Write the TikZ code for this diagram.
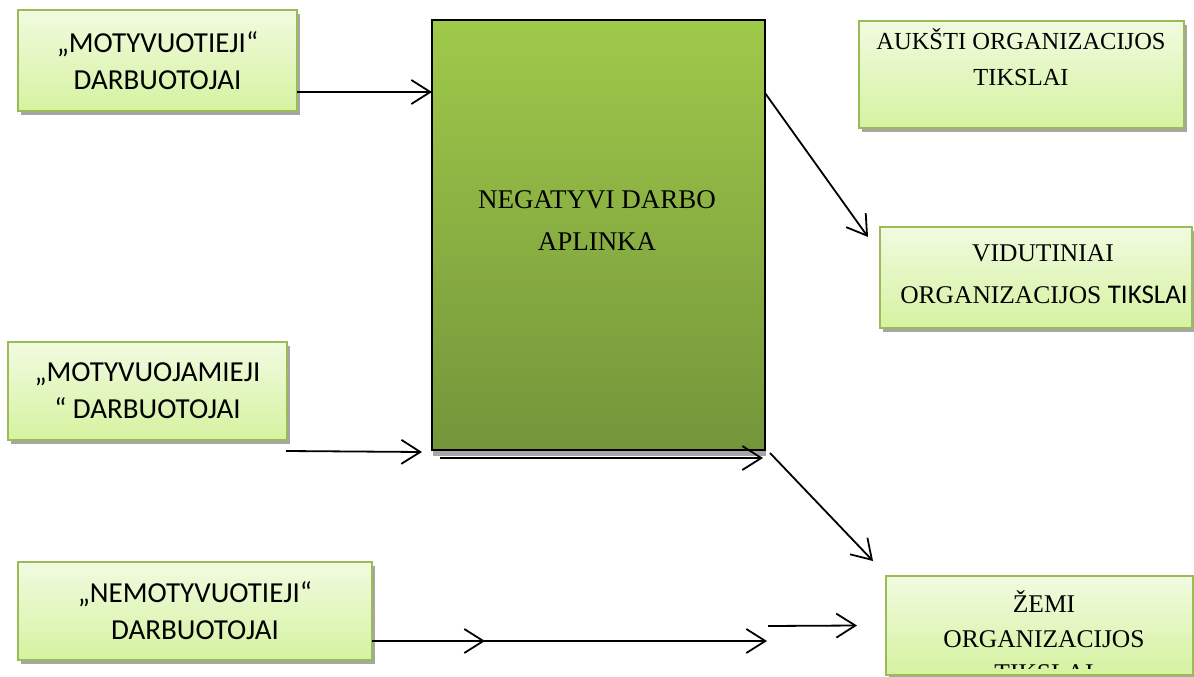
\documentclass[tikz,border=0pt]{standalone}
\usepackage{fontspec}
\setmainfont{Liberation Serif}
\newfontfamily\carlito{Carlito}
\usetikzlibrary{arrows.meta,shadows}

\definecolor{boxtop}{HTML}{F1FBE0}
\definecolor{boxbot}{HTML}{D5F2A0}
\definecolor{boxedge}{HTML}{9BBB59}
\definecolor{bigtop}{HTML}{9FC94A}
\definecolor{bigbot}{HTML}{74953A}
\definecolor{shadowgray}{HTML}{A6A6A6}

\tikzset{
  goalbox/.style={draw=boxedge, line width=2pt, top color=boxtop, bottom color=boxbot,
    inner sep=0pt, outer sep=0pt,
    drop shadow={shadow xshift=3pt, shadow yshift=-4pt, fill=shadowgray, opacity=1}},
  envbox/.style={draw=black, line width=1.5pt, top color=bigtop, bottom color=bigbot,
    inner sep=0pt, outer sep=0pt,
    drop shadow={shadow xshift=1pt, shadow yshift=-6pt, fill=shadowgray, opacity=1}},
  sanslabel/.style={font=\carlito\fontsize{29}{37}\selectfont, align=center},
  serifline/.style={font=\fontsize{25.5}{30}\selectfont, anchor=base, inner sep=0pt},
  flow/.style={line width=1.8pt, -{Straight Barb[length=19pt,width=24pt]}}
}

\begin{document}
\begin{tikzpicture}[x=1pt,y=-1pt]
\useasboundingbox (0,0) rectangle (1194,677);

% employee groups (left)
\node[goalbox, sanslabel, minimum width=279pt, minimum height=101pt] (m1) at (157.5,60.5)
  {„MOTYVUOTIEJI“\\DARBUOTOJAI};
\node[goalbox, sanslabel, minimum width=279pt, minimum height=98pt] (m2) at (147.5,391)
  {„MOTYVUOJAMIEJI\\“ DARBUOTOJAI};
\node[goalbox, sanslabel, minimum width=354pt, minimum height=98pt] (m3) at (195,611)
  {„NEMOTYVUOTIEJI“\\DARBUOTOJAI};

% work environment (centre)
\node[envbox, minimum width=333pt, minimum height=430pt] (neg) at (598.5,235) {};
\node[serifline, font=\fontsize{27}{30}\selectfont] (neg1) at (597,208) {NEGATYVI DARBO};
\node[serifline, font=\fontsize{27}{30}\selectfont] (neg2) at (597,250) {APLINKA};

% organisational goals (right)
\node[goalbox, minimum width=325pt, minimum height=107pt] (high) at (1021.5,74.5) {};
\node[serifline, font=\fontsize{24.5}{30}\selectfont] (high1) at (1021,50) {AUKŠTI ORGANIZACIJOS};
\node[serifline, font=\fontsize{24.5}{30}\selectfont] (high2) at (1021,85) {TIKSLAI};

\node[goalbox, minimum width=312pt, minimum height=101pt] (vid) at (1036,277.5) {};
\node[serifline] (vid1) at (1043,261) {VIDUTINIAI};
\node[serifline] (vid2) at (1044,303) {ORGANIZACIJOS {\carlito\fontsize{27}{30}\selectfont TIKSLAI}};

\node[goalbox, minimum width=307pt, minimum height=99pt] (zemi) at (1039.5,625.5) {};
\node[serifline] (zemi1) at (1044,612) {ŽEMI};
\node[serifline] (zemi2) at (1044,647) {ORGANIZACIJOS};
% third line is cut off by the bottom of the box
\begin{scope}
  \clip (890,660) rectangle (1190,668.5);
  \node[serifline] (zemi3) at (1044,681) {TIKSLAI};
\end{scope}

% free ends of the bottom flow line
\coordinate (midA) at (485,641);
\coordinate (midB) at (455,641);
\coordinate (midC) at (767,641);
\coordinate (midD) at (768,626);

% connectors
\draw[flow] ([yshift=19pt]m1.south east) -- ([yshift=-72pt]neg.north west);
\draw[flow] ([xshift=-1pt,yshift=-11pt]m2.south east) -- ([xshift=-10pt,yshift=-2pt]neg.south west);
\draw[flow] ([xshift=8pt,yshift=-8pt]neg.south west) -- ([xshift=-2pt,yshift=-8pt]neg.south east);
\draw[flow] ([yshift=-73pt]neg.north east) -- ([xshift=-12pt,yshift=-10pt]vid.north west);
\draw[flow] ([xshift=5pt,yshift=-3pt]neg.south east) -- ([xshift=-13pt,yshift=15pt]zemi.north west);
\draw[flow] ([yshift=19pt]m3.south east) -- (midA);
\draw[flow] (midB) -- (midC);
\draw[flow] (midD) -- ([xshift=-29pt]zemi.west);
\end{tikzpicture}
\end{document}
